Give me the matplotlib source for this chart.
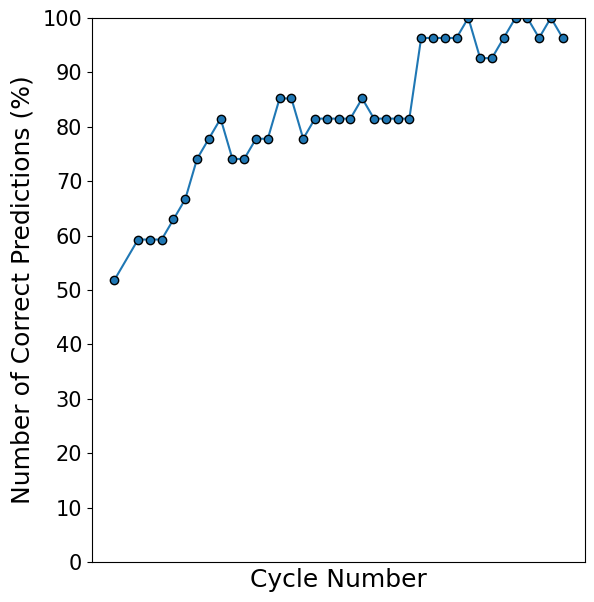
import matplotlib
matplotlib.use('Agg')
import matplotlib.pyplot as plt

# cycle numbers (cycle 2 has no point)
cycles = [1] + list(range(3, 40))

# percentage of correct predictions per cycle
correct = [51.85, 59.26, 59.26, 59.26, 62.96, 66.67, 74.07, 77.78, 81.48, 74.07,
           74.07, 77.78, 77.78, 85.19, 85.19, 77.78, 81.48, 81.48, 81.48, 81.48,
           85.19, 81.48, 81.48, 81.48, 81.48, 96.30, 96.30, 96.30, 96.30, 100.0,
           92.59, 92.59, 96.30, 100.0, 100.0, 96.30, 100.0, 96.30]

fig = plt.figure(figsize=(5.94, 6.02), dpi=100)
ax = fig.add_axes([0.155, 0.0664, 0.83, 0.904])

ax.plot(cycles, correct, marker='o', color='#1f77b4', markeredgecolor='black')

ax.set_ylim(0, 100)
ax.set_yticks(range(0, 101, 10))
ax.set_xticks([])
ax.tick_params(axis='y', labelsize=15)
ax.set_xlabel('Cycle Number', fontsize=18)
ax.set_ylabel('Number of Correct Predictions (%)', fontsize=18, labelpad=6)

plt.savefig('out.png')
